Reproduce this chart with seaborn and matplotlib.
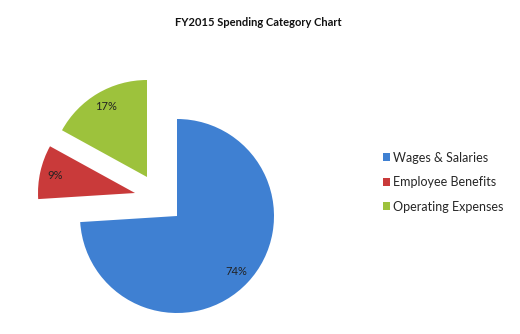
import matplotlib
matplotlib.use("Agg")
import matplotlib.pyplot as plt
import seaborn as sns
from matplotlib.patches import Patch

sns.set_theme(style="white")
plt.rcParams['font.family'] = ['Lato', 'DejaVu Sans']

categories = ["Wages & Salaries", "Employee Benefits", "Operating Expenses"]
values = [74, 9, 17]
colors = ["#3F80D2", "#C93A3A", "#9DC23C"]
# Excel-style slice explosion offsets (x, y) in axes units
slice_offsets = [(0, 0), (-42, 23), (-30, 39)]

RADIUS = 97
CENTER = (177, 118)
fig = plt.figure(figsize=(5.2, 3.34), dpi=100)
ax = fig.add_axes([0, 0, 1, 1])
ax.set_xlim(0, 520)
ax.set_ylim(0, 334)
ax.set_aspect('equal')
ax.axis('off')

wedges, texts, autotexts = ax.pie(
    values, colors=colors, startangle=90,
    counterclock=False, center=CENTER, radius=RADIUS,
    autopct='%1.0f%%', pctdistance=0.84,
    wedgeprops=dict(edgecolor='none'),
    textprops=dict(fontsize=8, color='#222222'))
for w, t, (dx, dy) in zip(wedges, autotexts, slice_offsets):
    cx, cy = w.center
    w.set_center((cx + dx, cy + dy))
    tx, ty = t.get_position()
    t.set_position((tx + dx, ty + dy))
ax.set_xlim(0, 520)
ax.set_ylim(0, 334)

fig.text(0.497, 0.934, "FY2015 Spending Category Chart", ha='center', va='center',
         fontsize=8, fontweight='bold', color='#111111')

handles = [Patch(facecolor=c, edgecolor='none') for c in colors]
fig.legend(handles, categories, loc='center left', bbox_to_anchor=(0.714, 0.455),
           frameon=False, fontsize=9, handlelength=0.6, handleheight=0.6,
           handletextpad=0.25, labelspacing=1.0)

fig.savefig("out.png", dpi=100)
